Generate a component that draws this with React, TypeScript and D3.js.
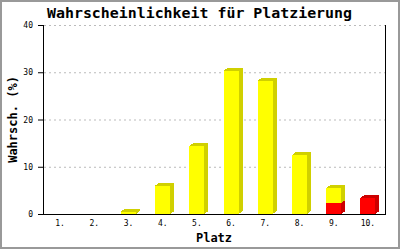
import React from "react";
import * as d3 from "d3";

const categories = ["1.", "2.", "3.", "4.", "5.", "6.", "7.", "8.", "9.", "10."];
const yellowValues = [0, 0, 0.5, 6.0, 14.4, 30.3, 28.2, 12.5, 3.2, 0];
const redValues = [0, 0, 0, 0, 0, 0, 0, 0, 2.3, 3.4];
const yTicks = [0, 10, 20, 30, 40];
const title = "Wahrscheinlichkeit für Platzierung";
const yLabel = "Wahrsch. (%)";
const xLabel = "Platz";

const W = 400;
const H = 250;
const left = 43;
const right = 385;
const top = 25;
const bottom = 214;
const barW = 15;
const dx = 4;
const dy = -3;
const mono = "'DejaVu Sans Mono', 'Liberation Mono', monospace";

export default function App() {
  const x = d3.scaleBand<string>().domain(categories).range([left, right]).padding(0);
  const y = d3.scaleLinear().domain([0, 40]).range([bottom, top]);

  const segs: { x0: number; y0: number; y1: number; fill: string; dark: string; showTop: boolean }[] = [];
  categories.forEach((c, i) => {
    const cx = (x(c) as number) + x.bandwidth() / 2;
    const x0 = cx - barW / 2;
    const r = redValues[i];
    const yv = yellowValues[i];
    if (r > 0) {
      segs.push({ x0, y0: y(0), y1: y(r), fill: "#ff0000", dark: "#cc0000", showTop: yv <= 0 });
    }
    if (yv > 0) {
      segs.push({ x0, y0: y(r), y1: y(r + yv), fill: "#ffff00", dark: "#d0d000", showTop: true });
    }
  });

  return (
    <svg width={W} height={H} style={{ position: "absolute", left: 0, top: 0, background: "#fff" }}>
      <rect x={0} y={0} width={W} height={H} fill="#fff" />
      <rect x={1} y={1} width={398} height={247} fill="none" stroke="#999" strokeWidth={2} />
      <text x={199.5} y={18} textAnchor="middle" fontFamily={mono} fontWeight="bold" fontSize={14} textLength={305} lengthAdjust="spacingAndGlyphs" fill="#000">
        {title}
      </text>
      {yTicks.filter((t) => t > 0).map((t) => (
        <line key={"g" + t} x1={left + 1} x2={right} y1={y(t) + 0.5} y2={y(t) + 0.5} stroke="#bbb" strokeDasharray="2,3" />
      ))}
      {segs.map((s, i) => {
        const x1 = s.x0 + barW;
        const side = `${x1},${s.y1} ${x1 + dx},${s.y1 + dy} ${x1 + dx},${s.y0 + dy} ${x1},${s.y0}`;
        const topF = `${s.x0},${s.y1} ${s.x0 + dx},${s.y1 + dy} ${x1 + dx},${s.y1 + dy} ${x1},${s.y1}`;
        return (
          <g key={i} shapeRendering="crispEdges">
            <polygon points={side} fill={s.dark} />
            {s.showTop && <polygon points={topF} fill={s.dark} />}
            <rect x={s.x0} y={s.y1} width={barW} height={s.y0 - s.y1} fill={s.fill} />
          </g>
        );
      })}
      <line x1={left + 0.5} x2={left + 0.5} y1={top} y2={bottom + 1} stroke="#000" />
      <line x1={right + 0.5} x2={right + 0.5} y1={top} y2={bottom + 1} stroke="#000" />
      <line x1={left} x2={right + 1} y1={bottom + 0.5} y2={bottom + 0.5} stroke="#000" />
      {yTicks.map((t) => (
        <g key={"t" + t}>
          <line x1={38} x2={left} y1={y(t) + 0.5} y2={y(t) + 0.5} stroke="#000" />
          <text x={33} y={y(t) + 3} textAnchor="end" fontFamily={mono} fontSize={8} fill="#000">
            {t}
          </text>
        </g>
      ))}
      {categories.map((c) => (
        <text key={c} x={(x(c) as number) + x.bandwidth() / 2} y={226} textAnchor="middle" fontFamily={mono} fontSize={8} fill="#000">
          {c}
        </text>
      ))}
      <text x={214} y={242} textAnchor="middle" fontFamily={mono} fontWeight="bold" fontSize={12} fill="#000">
        {xLabel}
      </text>
      <text transform={`translate(17,${(top + bottom) / 2}) rotate(-90)`} textAnchor="middle" fontFamily={mono} fontWeight="bold" fontSize={12} fill="#000">
        {yLabel}
      </text>
    </svg>
  );
}
